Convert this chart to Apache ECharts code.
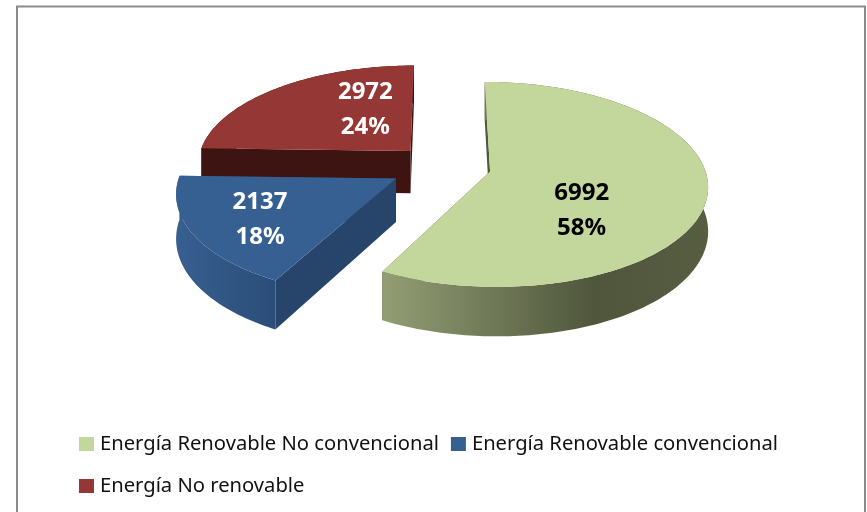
<!DOCTYPE html>
<html>
<head>
<meta charset="utf-8">
<title>Energía</title>
<script src="https://cdn.jsdelivr.net/npm/echarts@6/dist/echarts.min.js"></script>
<style>
html, body { margin: 0; padding: 0; background: #fff; }
#chart { width: 867px; height: 512px; }
</style>
</head>
<body>
<div id="chart"></div>
<script>
var categories = ['Energía Renovable No convencional', 'Energía Renovable convencional', 'Energía No renovable'];
var values = [6992, 2137, 2972];
var percentLabels = ['58%', '18%', '24%'];

// look of each slice
var topColors = ['#C3D69B', '#376092', '#953735'];
var cutColors = ['#4F5A3A', '#27446B', '#3D1411'];
var wallStops = [
    [[0, '#939E74'], [0.65, '#4F563C'], [1, '#565D41']],
    [[0, '#375F90'], [1, '#2B4D78']],
    [[0, '#3D1411'], [1, '#3D1411']]
];
var labelColors = ['#000', '#fff', '#fff'];
var sliceZ = [3, 2, 1];
var explodes = [0.23, 0.245, 0.215];
// label spot on the pie plane, relative to the slice apex
var labelSpots = [[0.395, -0.37], [-0.585, -0.385], [-0.235, 0.45]];

// fake 3d projection of the pie plane
var pie = { cx: 442, cy: 166, r: 214, ry: 99.5, persp: 0.124, depth: 43 };

function project(x, y, z) {
    var s = 1 / (1 + pie.persp * y);
    return [pie.cx + pie.r * x * s, pie.cy - pie.ry * y * s + pie.depth * z * s];
}

var total = 0;
values.forEach(function(v) { total += v; });

function sliceRange(idx) {
    var start = 0;
    for (var i = 0; i < idx; i++) {
        start += values[i] / total * Math.PI * 2;
    }
    return [start, start + values[idx] / total * Math.PI * 2];
}

function renderSlice(params, api) {
    var idx = params.seriesIndex;
    var range = sliceRange(idx);
    var mid = (range[0] + range[1]) / 2;
    var ox = Math.sin(mid) * explodes[idx];
    var oy = Math.cos(mid) * explodes[idx];
    var top = [], bottom = [];
    var steps = Math.ceil((range[1] - range[0]) / 0.02);

    for (var i = 0; i <= steps; i++) {
        var a = range[0] + (range[1] - range[0]) * i / steps;
        top.push(project(ox + Math.sin(a), oy + Math.cos(a), 0));
        bottom.push(project(ox + Math.sin(a), oy + Math.cos(a), 1));
    }

    var apexTop = project(ox, oy, 0);
    var apexBottom = project(ox, oy, 1);
    var last = top.length - 1;
    var xMin = Infinity, xMax = -Infinity;
    top.forEach(function(p) {
        if (p[1] > apexTop[1] - 30) {
            xMin = Math.min(xMin, p[0]);
            xMax = Math.max(xMax, p[0]);
        }
    });

    var spot = labelSpots[idx];
    var labelAt = project(ox + spot[0], oy + spot[1], 0);

    return {
        type: 'group',
        silent: true,
        children: [
            {
                type: 'polygon',
                shape: { points: [top[0], apexTop, apexBottom, bottom[0]] },
                style: { fill: cutColors[idx] }
            },
            {
                type: 'polygon',
                shape: { points: [top[last], apexTop, apexBottom, bottom[last]] },
                style: { fill: cutColors[idx] }
            },
            {
                type: 'polygon',
                shape: { points: top.concat(bottom.slice().reverse()) },
                style: {
                    fill: {
                        type: 'linear', x: xMin, y: 0, x2: xMax, y2: 0, global: true,
                        colorStops: wallStops[idx].map(function(s) {
                            return { offset: s[0], color: s[1] };
                        })
                    }
                }
            },
            {
                type: 'polygon',
                shape: { points: [apexTop].concat(top) },
                style: { fill: topColors[idx] }
            },
            {
                type: 'text',
                x: labelAt[0],
                y: labelAt[1],
                style: {
                    text: api.value(0) + '\n' + percentLabels[idx],
                    fill: labelColors[idx],
                    font: 'bold 24px "Noto Sans", sans-serif',
                    lineHeight: 35,
                    align: 'center',
                    verticalAlign: 'middle'
                }
            }
        ]
    };
}

var series = categories.map(function(name, i) {
    return {
        name: name,
        type: 'custom',
        coordinateSystem: 'none',
        renderItem: renderSlice,
        itemStyle: { color: topColors[i] },
        data: [[values[i]]],
        z: sliceZ[i]
    };
});

var chart = echarts.init(document.getElementById('chart'), null, { renderer: 'canvas' });
chart.setOption({
    animation: false,
    backgroundColor: '#fff',
    legend: {
        data: categories,
        left: 79,
        top: 429,
        width: 740,
        padding: 0,
        icon: 'rect',
        itemWidth: 15,
        itemHeight: 14,
        itemGap: 12,
        textStyle: {
            fontFamily: '"Noto Sans", sans-serif',
            fontSize: 20.2,
            color: '#111',
            lineHeight: 30,
            padding: [0, 0, 0, 1]
        }
    },
    graphic: [{
        type: 'rect',
        silent: true,
        shape: { x: 17, y: 6.5, width: 848, height: 520 },
        style: { fill: 'none', stroke: '#8c8c8c', lineWidth: 2 }
    }],
    series: series
});
</script>
</body>
</html>
